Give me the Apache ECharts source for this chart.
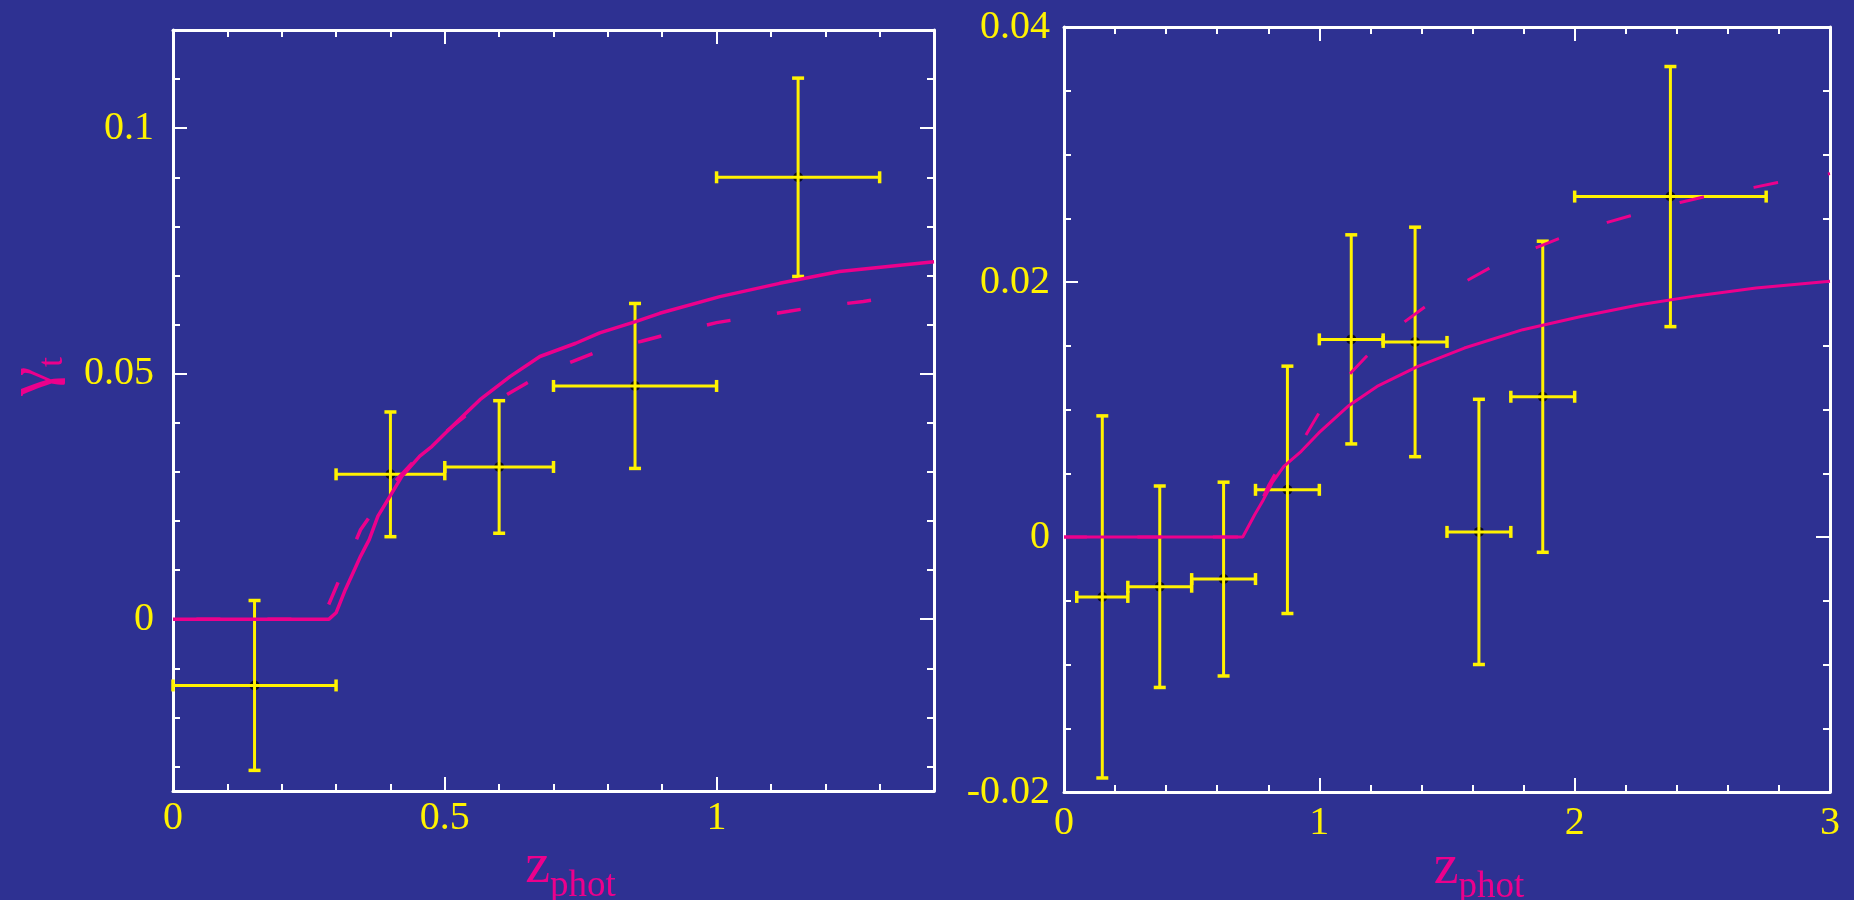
<!DOCTYPE html>
<html><head><meta charset="utf-8">
<script src="https://cdn.jsdelivr.net/npm/echarts@6/dist/echarts.min.js"></script>
<style>html,body{margin:0;padding:0;background:#2E3192;}#c{width:1854px;height:900px;}</style>
</head><body><div id="c"></div>
<script>
// ---------- Left panel data ----------
const leftXRange = [0, 1.4];
const leftYRange = [-0.035, 0.12];
const leftXLabels = [0, 0.5, 1];
const leftXMajor = [0, 0.5, 1];
const leftXMinor = [0.1, 0.2, 0.3, 0.4, 0.6, 0.7, 0.8, 0.9, 1.1, 1.2, 1.3];
const leftYLabels = [0, 0.05, 0.1];
const leftYMajor = [0, 0.05, 0.1];
const leftYMinor = [-0.03, -0.02, -0.01, 0.01, 0.02, 0.03, 0.04, 0.06, 0.07, 0.08, 0.09, 0.11];

const leftX    = [0.15, 0.4, 0.6, 0.85, 1.15];
const leftXLo  = [0, 0.3, 0.5, 0.7, 1.0];
const leftXHi  = [0.3, 0.5, 0.7, 1.0, 1.3];
const leftY    = [-0.0135, 0.0295, 0.031, 0.0475, 0.090];
const leftYErr = [0.0173, 0.0127, 0.0135, 0.0168, 0.0202];

const leftSolidX = [0, 0.287, 0.300, 0.317, 0.334, 0.345, 0.361, 0.377, 0.399, 0.421, 0.454, 0.4765, 0.5205, 0.5647, 0.6198, 0.675, 0.741, 0.785, 0.851, 0.8955, 1.006, 1.116, 1.226, 1.40];
const leftSolidY = [0, 0, 0.0013, 0.006, 0.0101, 0.0128, 0.0162, 0.021, 0.025, 0.0291, 0.0332, 0.0352, 0.0400, 0.0447, 0.0494, 0.0535, 0.0562, 0.0583, 0.0606, 0.0623, 0.0657, 0.0684, 0.0708, 0.0728];
const leftDashX = [0, 0.275, 0.293, 0.345, 0.40, 0.45, 0.50, 0.55, 0.614, 0.651, 0.70, 0.7356, 0.774, 0.862, 0.906, 1.0, 1.039, 1.133, 1.177, 1.27, 1.315, 1.34];
const leftDashY = [0, 0, 0.0047, 0.0182, 0.027, 0.033, 0.038, 0.0425, 0.0457, 0.0481, 0.051, 0.0525, 0.0542, 0.0566, 0.0579, 0.0604, 0.0611, 0.0627, 0.0635, 0.0647, 0.0655, 0.0658];

// ---------- Right panel data ----------
const rightXRange = [0, 3];
const rightYRange = [-0.02, 0.04];
const rightXLabels = [0, 1, 2, 3];
const rightXMajor = [0, 1, 2, 3];
const rightXMinor = [0.2, 0.4, 0.6, 0.8, 1.2, 1.4, 1.6, 1.8, 2.2, 2.4, 2.6, 2.8];
const rightYLabels = [-0.02, 0, 0.02, 0.04];
const rightYMajor = [-0.02, 0, 0.02, 0.04];
const rightYMinor = [-0.015, -0.01, -0.005, 0.005, 0.01, 0.015, 0.025, 0.03, 0.035];

const rightX    = [0.15, 0.375, 0.625, 0.875, 1.125, 1.375, 1.625, 1.875, 2.375];
const rightXLo  = [0.05, 0.25, 0.5, 0.75, 1.0, 1.25, 1.5, 1.75, 2.0];
const rightXHi  = [0.25, 0.5, 0.75, 1.0, 1.25, 1.5, 1.75, 2.0, 2.75];
const rightY    = [-0.0047, -0.0039, -0.0033, 0.0037, 0.0155, 0.0153, 0.0004, 0.011, 0.0267];
const rightYErr = [0.0142, 0.0079, 0.0076, 0.0097, 0.0082, 0.0090, 0.0104, 0.0122, 0.0102];

const rightSolidX = [0, 0.70, 0.7467, 0.781, 0.815, 0.861, 0.929, 0.9977, 1.112, 1.226, 1.386, 1.568, 1.797, 2.025, 2.254, 2.482, 2.710, 3.0];
const rightSolidY = [0, 0, 0.00175, 0.00293, 0.00424, 0.00554, 0.00672, 0.00816, 0.01025, 0.01181, 0.01338, 0.01482, 0.01626, 0.0173, 0.01822, 0.01893, 0.01953, 0.02005];
const rightDashX = [0, 0.70, 0.75, 0.80, 0.87, 0.9475, 0.9977, 1.123, 1.185, 1.336, 1.413, 1.58, 1.667, 1.847, 1.938, 2.128, 2.219, 2.413, 2.505, 2.703, 2.795, 3.0];
const rightDashY = [0, 0, 0.0018, 0.004, 0.0065, 0.0080, 0.0097, 0.01286, 0.01417, 0.01691, 0.01804, 0.02013, 0.0211, 0.02267, 0.0234, 0.02468, 0.0252, 0.02624, 0.02667, 0.02742, 0.02781, 0.0285];

// ---------- styling ----------
const BG = '#2E3192', YEL = '#FFF200', PINK = '#EC008C', WHITE = '#FFFFFF', FONT = 'Liberation Serif';

const grids = [], xAxes = [], yAxes = [];
function addGrid(rect, xa, ya) {
  const gi = grids.length;
  grids.push(Object.assign({ containLabel: false, outerBoundsMode: 'none' }, rect));
  xa.gridIndex = gi; ya.gridIndex = gi;
  xAxes.push(xa); yAxes.push(ya);
  return gi;
}
function ax(range, position, showLine, ticks, len, labels, margin, extra) {
  const a = {
    type: 'value', min: range[0], max: range[1], position: position,
    axisLine: { show: showLine, onZero: false, lineStyle: { color: WHITE, width: 3 } },
    axisTick: { show: true, inside: true, length: len, customValues: ticks, lineStyle: { color: WHITE, width: 2 } },
    axisLabel: labels ? { show: true, customValues: labels, formatter: v => String(v), color: YEL,
      fontSize: 40, fontFamily: FONT, margin: margin } : { show: false },
    splitLine: { show: false }, minorTick: { show: false }, minorSplitLine: { show: false }
  };
  return Object.assign(a, extra || {});
}
const xName = (padLeft) => ({
  name: '{z|z}{s|phot}', nameLocation: 'middle', nameGap: 48, nameMoveOverlap: false,
  nameTextStyle: { color: PINK, padding: [0, 0, 0, padLeft], rich: {
    z: { fontSize: 56, fontFamily: FONT, color: PINK, padding: [0, 0, 10, 0], verticalAlign: 'bottom' },
    s: { fontSize: 37, fontFamily: FONT, color: PINK, verticalAlign: 'bottom' } } }
});
const yName = {
  name: '{g|γ}{t|t}', nameLocation: 'middle', nameGap: 102, nameMoveOverlap: false,
  nameTextStyle: { color: PINK, padding: [0, 0, 0, 68], rich: {
    g: { fontSize: 66, fontFamily: FONT, color: PINK, padding: [0, 0, 4, 0], verticalAlign: 'bottom' },
    t: { fontSize: 36, fontFamily: FONT, color: PINK, verticalAlign: 'bottom' } } }
};

// Left panel grids
const LR = { left: 173, top: 30, width: 761, height: 761 };
const gL = addGrid(LR, ax(leftXRange, 'bottom', true, leftXMajor, 14, leftXLabels, 7, xName(34)),
                      ax(leftYRange, 'left', true, leftYMajor, 14, leftYLabels, 19, yName));
addGrid(LR, ax(leftXRange, 'top', true, leftXMajor, 14, null), ax(leftYRange, 'right', true, leftYMajor, 14, null));
addGrid(LR, ax(leftXRange, 'bottom', false, leftXMinor, 7, null), ax(leftYRange, 'left', false, leftYMinor, 7, null));
addGrid(LR, ax(leftXRange, 'top', false, leftXMinor, 7, null), ax(leftYRange, 'right', false, leftYMinor, 7, null));

// Right panel grids
const RR = { left: 1064, top: 27, width: 766, height: 765 };
const gR = addGrid(RR, ax(rightXRange, 'bottom', true, rightXMajor, 14, rightXLabels, 11, xName(64)),
                      ax(rightYRange, 'left', true, rightYMajor, 14, rightYLabels, 14));
addGrid(RR, ax(rightXRange, 'top', true, rightXMajor, 14, null), ax(rightYRange, 'right', true, rightYMajor, 14, null));
addGrid(RR, ax(rightXRange, 'bottom', false, rightXMinor, 7, null), ax(rightYRange, 'left', false, rightYMinor, 7, null));
addGrid(RR, ax(rightXRange, 'top', false, rightXMinor, 7, null), ax(rightYRange, 'right', false, rightYMinor, 7, null));

function zip(a, b) { return a.map((v, i) => [v, b[i]]); }
function errData(x, lo, hi, y, e) { return x.map((v, i) => [v, y[i], lo[i], hi[i], y[i] - e[i], y[i] + e[i]]); }

function errRender(params, api) {
  const x = api.value(0), y = api.value(1);
  const c = api.coord([x, y]);
  const xl = api.coord([api.value(2), y])[0], xh = api.coord([api.value(3), y])[0];
  const yl = api.coord([x, api.value(4)])[1], yh = api.coord([x, api.value(5)])[1];
  const st = { stroke: YEL, lineWidth: 3 };
  const cap = { stroke: YEL, lineWidth: 3.5 };
  return { type: 'group', children: [
    { type: 'line', shape: { x1: xl, y1: c[1], x2: xh, y2: c[1] }, style: st },
    { type: 'line', shape: { x1: c[0], y1: yl, x2: c[0], y2: yh }, style: st },
    { type: 'line', shape: { x1: xl, y1: c[1] - 6, x2: xl, y2: c[1] + 6 }, style: cap },
    { type: 'line', shape: { x1: xh, y1: c[1] - 6, x2: xh, y2: c[1] + 6 }, style: cap },
    { type: 'line', shape: { x1: c[0] - 6, y1: yl, x2: c[0] + 6, y2: yl }, style: cap },
    { type: 'line', shape: { x1: c[0] - 6, y1: yh, x2: c[0] + 6, y2: yh }, style: cap }
  ] };
}

function panelSeries(g, sx, sy, dx, dy, px, plo, phi, py, pe, lw, dash, dashOff) {
  return [
    { type: 'scatter', xAxisIndex: g, yAxisIndex: g, data: zip(px, py), symbolSize: 10,
      itemStyle: { color: '#000' }, z: 2, silent: true },
    { type: 'custom', xAxisIndex: g, yAxisIndex: g, data: errData(px, plo, phi, py, pe),
      renderItem: errRender, encode: { x: 0, y: 1 }, z: 3, silent: true },
    { type: 'line', xAxisIndex: g, yAxisIndex: g, data: zip(dx, dy), showSymbol: false,
      lineStyle: { color: PINK, width: lw, type: dash, dashOffset: dashOff }, z: 4, silent: true },
    { type: 'line', xAxisIndex: g, yAxisIndex: g, data: zip(sx, sy), showSymbol: false,
      lineStyle: { color: PINK, width: lw }, z: 5, silent: true }
  ];
}

const option = {
  backgroundColor: BG,
  animation: false,
  grid: grids, xAxis: xAxes, yAxis: yAxes,
  series: [].concat(
    panelSeries(gL, leftSolidX, leftSolidY, leftDashX, leftDashY, leftX, leftXLo, leftXHi, leftY, leftYErr, 3.5, [24, 47], 47.6),
    panelSeries(gR, rightSolidX, rightSolidY, rightDashX, rightDashY, rightX, rightXLo, rightXHi, rightY, rightYErr, 3, [25, 50.5], 2.1)
  )
};
const chart = echarts.init(document.getElementById('c'), null, { renderer: 'canvas' });
chart.setOption(option);
</script></body></html>
